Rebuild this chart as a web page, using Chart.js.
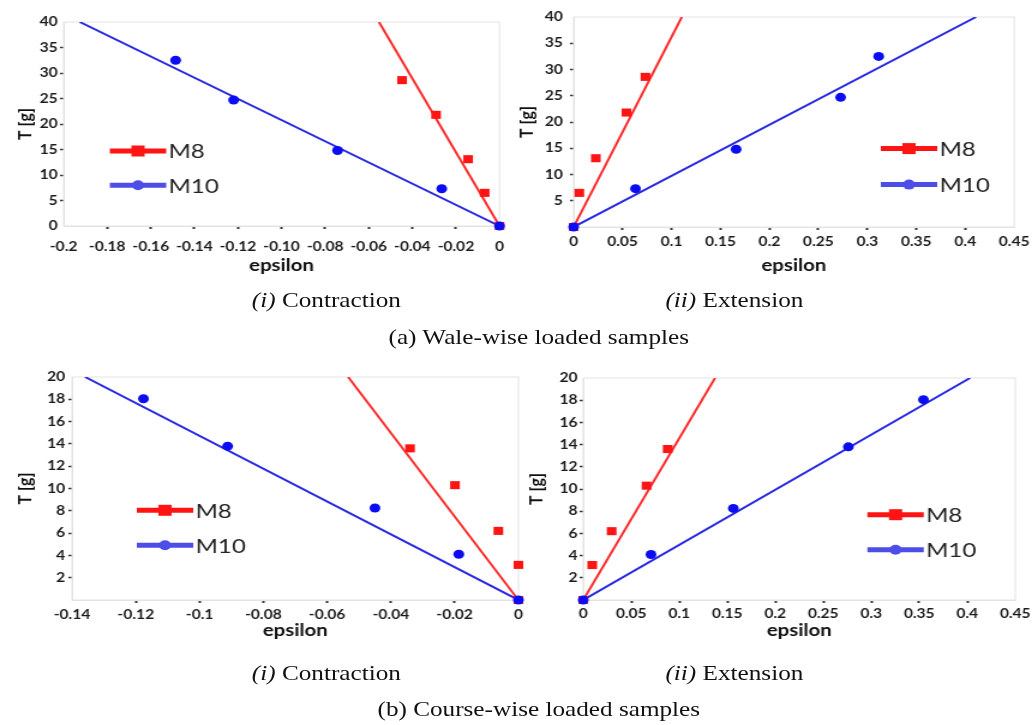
<!DOCTYPE html>
<html>
<head>
<meta charset="utf-8">
<title>Tension vs strain, M8 and M10</title>
<script src="https://cdn.jsdelivr.net/npm/chart.js@4.4.1/dist/chart.umd.min.js"></script>
<style>
  html, body { margin: 0; padding: 0; background: #fff; }
  /* the whole figure is laid out narrow and widened 1.2x */
  #figure { position: relative; width: 862.5px; height: 725px; transform: scaleX(1.2); transform-origin: 0 0; }
  #figure canvas { position: absolute; }
  .cap { position: absolute; font-family: "Liberation Serif", "Times New Roman", serif; font-size: 21px; line-height: 21px; color: #111; white-space: nowrap; transform: translateX(-50%); }
</style>
</head>
<body>
<div id="figure">
  <canvas id="waleContraction" width="430" height="282" style="left:0;top:0"></canvas>
  <canvas id="waleExtension" width="435" height="282" style="left:427px;top:0"></canvas>
  <canvas id="courseContraction" width="440" height="285" style="left:0;top:360px"></canvas>
  <canvas id="courseExtension" width="426" height="285" style="left:436px;top:360px"></canvas>

  <div class="cap" style="left:272px;top:290px"><i>(i)</i> Contraction</div>
  <div class="cap" style="left:612px;top:290px"><i>(ii)</i> Extension</div>
  <div class="cap" style="left:449px;top:327px">(a) Wale-wise loaded samples</div>
  <div class="cap" style="left:272px;top:663px"><i>(i)</i> Contraction</div>
  <div class="cap" style="left:612px;top:663px"><i>(ii)</i> Extension</div>
  <div class="cap" style="left:449px;top:699px">(b) Course-wise loaded samples</div>
</div>

<script>
// Wale-wise loading: tension T [g] and the strain (epsilon) read at each load
const waleTensionM8 = [0, 6.5, 13.1, 21.8, 28.6];
const waleTensionM10 = [0, 7.3, 14.8, 24.7, 32.5];
const waleContractionM8 = [0, -0.0068, -0.0144, -0.0291, -0.0447];
const waleContractionM10 = [0, -0.0265, -0.0743, -0.122, -0.1486];
const waleExtensionM8 = [0, 0.0058, 0.0227, 0.054, 0.0734];
const waleExtensionM10 = [0, 0.0632, 0.166, 0.2727, 0.3116];

// Course-wise loading
const courseTensionM8 = [0, 3.15, 6.2, 10.3, 13.6];
const courseTensionM10 = [0, 4.1, 8.25, 13.8, 18.05];
const courseContractionM8 = [0, 0, -0.0063, -0.0199, -0.034];
const courseContractionM10 = [0, -0.0187, -0.045, -0.0912, -0.1176];
const courseExtensionM8 = [0, 0.0094, 0.0296, 0.066, 0.088];
const courseExtensionM10 = [0, 0.0706, 0.1564, 0.2762, 0.3544];

// Linear fits through the origin, as (epsilon, T) end points
const waleFitTension = [0, 40];
const waleContractionFitM8 = [0, -0.0553];
const waleContractionFitM10 = [0, -0.1926];
const waleExtensionFitM8 = [0, 0.1105];
const waleExtensionFitM10 = [0, 0.411];
const courseFitTension = [0, 20];
const courseContractionFitM8 = [0, -0.0534];
const courseContractionFitM10 = [0, -0.1359];
const courseExtensionFitM8 = [0, 0.1373];
const courseExtensionFitM10 = [0, 0.403];

// Axis ticks
const waleContractionTicks = [-0.2, -0.18, -0.16, -0.14, -0.12, -0.1, -0.08, -0.06, -0.04, -0.02, 0];
const waleContractionTickLabels = ["-0.2", "-0.18", "-0.16", "-0.14", "-0.12", "-0.10", "-0.08", "-0.06", "-0.04", "-0.02", "0"];
const courseContractionTicks = [-0.14, -0.12, -0.1, -0.08, -0.06, -0.04, -0.02, 0];
const courseContractionTickLabels = ["-0.14", "-0.12", "-0.1", "-0.08", "-0.06", "-0.04", "-0.02", "0"];
const extensionTicks = [0, 0.05, 0.1, 0.15, 0.2, 0.25, 0.3, 0.35, 0.4, 0.45];
const extensionTickLabels = ["0", "0.05", "0.1", "0.15", "0.2", "0.25", "0.3", "0.35", "0.4", "0.45"];
const waleTensionTicks = [0, 5, 10, 15, 20, 25, 30, 35, 40];
const waleTensionTickLabels = ["0", "5", "10", "15", "20", "25", "30", "35", "40"];
const waleTensionTickLabelsNoZero = ["", "5", "10", "15", "20", "25", "30", "35", "40"];
const courseTensionTicks = [0, 2, 4, 6, 8, 10, 12, 14, 16, 18, 20];
const courseTensionTickLabels = ["", "2", "4", "6", "8", "10", "12", "14", "16", "18", "20"];

const RED = "#ff1414";
const RED_LINE = "#ff2a2a";
const BLUE = "#0c0cf2";
const BLUE_LINE = "#2828e2";
const BLUE_KEY = "#4d4de8";

Chart.defaults.font.family = "Lato, 'Open Sans', sans-serif";
Chart.defaults.color = "#1a1a1a";

const pts = (xs, ys) => xs.map((x, i) => ({ x: x, y: ys[i] }));

// hide the tick marks at both ends of an axis
const innerTickColor = (n) => (ctx) =>
  ctx.index === 0 || ctx.index === n - 1 ? "rgba(0,0,0,0)" : "#333";

// light frame round the plot area
const plotFrame = {
  id: "plotFrame",
  beforeDatasetsDraw(chart) {
    const { ctx, chartArea: a } = chart;
    ctx.save();
    ctx.strokeStyle = "#e3e3e3";
    ctx.lineWidth = 1;
    ctx.strokeRect(a.left, a.top, a.right - a.left, a.bottom - a.top);
    ctx.restore();
  },
};

// key drawn inside the plot area, line with marker then the name
const insideKey = {
  id: "insideKey",
  afterDatasetsDraw(chart, args, opts) {
    const { ctx, chartArea } = chart;
    const x0 = chartArea.left + opts.dx;
    let y = chartArea.top + opts.dy;
    opts.items.forEach((item) => {
      ctx.save();
      ctx.strokeStyle = item.line;
      ctx.lineWidth = 5;
      ctx.beginPath();
      ctx.moveTo(x0, y);
      ctx.lineTo(x0 + 47, y);
      ctx.stroke();
      ctx.fillStyle = item.marker;
      if (item.shape === "rect") {
        ctx.fillRect(x0 + 18, y - 5.5, 11, 11);
      } else {
        ctx.beginPath();
        ctx.arc(x0 + 23.5, y, 5, 0, Math.PI * 2);
        ctx.fill();
      }
      ctx.fillStyle = "#222";
      ctx.font = "20px Lato";
      ctx.textBaseline = "middle";
      ctx.fillText(item.label, x0 + 49, y + 1);
      ctx.restore();
      y += opts.gap;
    });
  },
};

function drawPanel(id, p) {
  return new Chart(document.getElementById(id), {
    type: "scatter",
    data: {
      datasets: [
        { label: "M10 fit", data: pts(p.fit10, p.fitT), showLine: true, borderColor: BLUE_LINE, borderWidth: 2, pointRadius: 0, order: 4 },
        { label: "M8 fit", data: pts(p.fit8, p.fitT), showLine: true, borderColor: RED_LINE, borderWidth: 2, pointRadius: 0, order: 3 },
        { label: "M8", data: pts(p.eps8, p.t8), pointStyle: "rect", pointRadius: 5.7, pointBackgroundColor: RED, pointBorderWidth: 0, order: 2, clip: false },
        { label: "M10", data: pts(p.eps10, p.t10), pointStyle: "circle", pointRadius: 4.5, pointBackgroundColor: BLUE, pointBorderWidth: 0, order: 1, clip: false },
      ],
    },
    options: {
      responsive: false,
      animation: false,
      events: [],
      layout: { padding: { top: p.padTop, right: p.padRight, bottom: 0, left: 0 } },
      scales: {
        x: {
          type: "linear",
          min: p.xTicks[0],
          max: p.xTicks[p.xTicks.length - 1],
          afterFit: (s) => { s.height = p.xHeight; },
          afterBuildTicks: (s) => { s.ticks = p.xTicks.map((v) => ({ value: v })); },
          ticks: {
            autoSkip: false, maxRotation: 0, minRotation: 0,
            padding: p.xTickPad,
            font: { size: 13, weight: "bold" },
            color: "#1c1c1c",
            callback: (v, i) => p.xLabels[i],
          },
          grid: { drawOnChartArea: false, tickLength: 3, tickWidth: 2, tickColor: innerTickColor(p.xTicks.length) },
          border: { color: "#e3e3e3" },
          title: { display: true, text: "epsilon", color: "#111", font: { size: 17, weight: "bold", lineHeight: 1 }, padding: { top: 0, bottom: p.epsPad } },
        },
        y: {
          type: "linear",
          min: 0,
          max: p.yTicks[p.yTicks.length - 1],
          afterFit: (s) => { s.width = p.yWidth; },
          afterBuildTicks: (s) => { s.ticks = p.yTicks.map((v) => ({ value: v })); },
          ticks: {
            autoSkip: false,
            padding: p.yTickPad,
            font: { size: 13, weight: "bold" },
            color: "#1c1c1c",
            callback: (v, i) => p.yLabels[i],
          },
          grid: { drawOnChartArea: false, tickLength: 3, tickWidth: 1.5, tickColor: innerTickColor(p.yTicks.length) },
          border: { color: "#e3e3e3" },
          title: { display: true, text: "T [g]", color: "#111", font: { size: 16, weight: "bold", lineHeight: 1 }, padding: { top: p.tPad, bottom: 0 } },
        },
      },
      plugins: {
        legend: { display: false },
        tooltip: { enabled: false },
        insideKey: {
          dx: p.keyX, dy: p.keyY, gap: p.keyGap,
          items: [
            { label: "M8", line: RED, marker: RED, shape: "rect" },
            { label: "M10", line: BLUE_KEY, marker: BLUE_KEY, shape: "circle" },
          ],
        },
      },
    },
    plugins: [plotFrame, insideKey],
  });
}

drawPanel("waleContraction", {
  eps8: waleContractionM8, t8: waleTensionM8, eps10: waleContractionM10, t10: waleTensionM10,
  fit8: waleContractionFitM8, fit10: waleContractionFitM10, fitT: waleFitTension,
  xTicks: waleContractionTicks, xLabels: waleContractionTickLabels,
  yTicks: waleTensionTicks, yLabels: waleTensionTickLabels,
  padTop: 22, padRight: 11, yWidth: 53, xHeight: 56,
  xTickPad: 10, yTickPad: 2, tPad: 12.8, epsPad: 7.5,
  keyX: 38.5, keyY: 129, keyGap: 34.3,
});

drawPanel("waleExtension", {
  eps8: waleExtensionM8, t8: waleTensionM8, eps10: waleExtensionM10, t10: waleTensionM10,
  fit8: waleExtensionFitM8, fit10: waleExtensionFitM10, fitT: waleFitTension,
  xTicks: extensionTicks, xLabels: extensionTickLabels,
  yTicks: waleTensionTicks, yLabels: waleTensionTickLabelsNoZero,
  padTop: 17, padRight: 15, yWidth: 51, xHeight: 55,
  xTickPad: 4, yTickPad: 6, tPad: 4.2, epsPad: 7.5,
  keyX: 256, keyY: 131.6, keyGap: 36,
});

drawPanel("courseContraction", {
  eps8: courseContractionM8, t8: courseTensionM8, eps10: courseContractionM10, t10: courseTensionM10,
  fit8: courseContractionFitM8, fit10: courseContractionFitM10, fitT: courseFitTension,
  xTicks: courseContractionTicks, xLabels: courseContractionTickLabels,
  yTicks: courseTensionTicks, yLabels: courseTensionTickLabels,
  padTop: 17, padRight: 8, yWidth: 60, xHeight: 45,
  xTickPad: 3.6, yTickPad: 2.7, tPad: 12.8, epsPad: 5.5,
  keyX: 54, keyY: 133.3, keyGap: 35,
});

drawPanel("courseExtension", {
  eps8: courseExtensionM8, t8: courseTensionM8, eps10: courseExtensionM10, t10: courseTensionM10,
  fit8: courseExtensionFitM8, fit10: courseExtensionFitM10, fitT: courseFitTension,
  xTicks: extensionTicks, xLabels: extensionTickLabels,
  yTicks: courseTensionTicks, yLabels: courseTensionTickLabels,
  padTop: 18, padRight: 16, yWidth: 50, xHeight: 45,
  xTickPad: 2.7, yTickPad: 1.6, tPad: 3.2, epsPad: 5.5,
  keyX: 236.8, keyY: 136.7, keyGap: 35,
});
</script>
</body>
</html>
